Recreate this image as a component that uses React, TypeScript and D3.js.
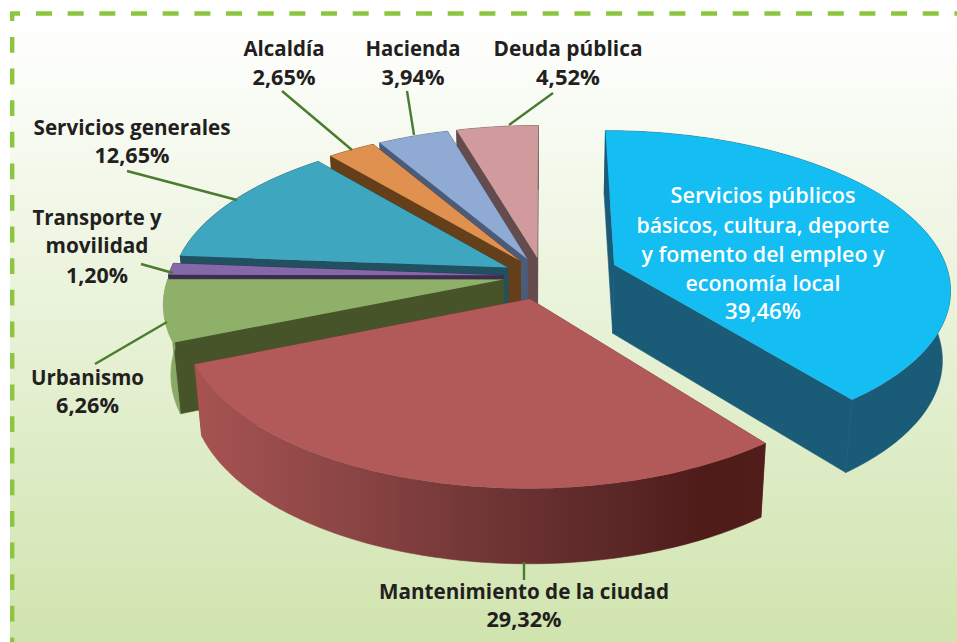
import React from "react";
import * as d3 from "d3";

const categories = [
  "Servicios públicos básicos, cultura, deporte y fomento del empleo y economía local",
  "Mantenimiento de la ciudad",
  "Urbanismo",
  "Transporte y movilidad",
  "Servicios generales",
  "Alcaldía",
  "Hacienda",
  "Deuda pública",
];
const shares = [39.46, 29.32, 6.26, 1.2, 12.65, 2.65, 3.94, 4.52];
const explode = [76, 50, 40, 40, 40, 40, 40, 40];
const topColors = ["#14bdf2", "#b25a59", "#8fb069", "#8468a8", "#3ea6bf", "#e0904f", "#8fabd3", "#d19a9c"];
const wallColors = ["#1a5b78", "#7a3c3c", "#475429", "#3d2b52", "#215060", "#653f19", "#4a5c7a", "#644b4e"];
const outerColors = ["#1a5b78", "url(#redWall)", "#8aa966", "#3d2b52", "#215060", "#653f19", "#4a5c7a", "#644b4e"];
const paintOrder = [7, 6, 5, 4, 3, 2, 0, 1];

type Label = { cx: number; lines: [string, number, number][]; fill?: string };
// text, baseline, measured width
const labels: Label[] = [
  { cx: 284, lines: [["Alcaldía", 56, 81], ["2,65%", 85, 63]] },
  { cx: 413, lines: [["Hacienda", 56, 95], ["3,94%", 85, 63]] },
  { cx: 568, lines: [["Deuda pública", 56, 149], ["4,52%", 85, 64]] },
  { cx: 132, lines: [["Servicios generales", 135, 197], ["12,65%", 163, 75]] },
  { cx: 97, lines: [["Transporte y", 225, 129], ["movilidad", 253, 103], ["1,20%", 283, 62]] },
  { cx: 87.5, lines: [["Urbanismo", 385, 113], ["6,26%", 413, 63]] },
  { cx: 524, lines: [["Mantenimiento de la ciudad", 599, 290], ["29,32%", 627, 75]] },
  {
    cx: 763,
    fill: "#ffffff",
    lines: [
      ["Servicios públicos", 203, 185],
      ["básicos, cultura, deporte", 232.5, 253],
      ["y fomento del empleo y", 261.5, 243],
      ["economía local", 290.5, 155],
      ["39,46%", 319, 76],
    ],
  },
];
const leaders: [number, number, number, number][] = [
  [282, 91, 352, 150],
  [407, 91, 414, 135],
  [553, 93, 509, 125],
  [127, 171, 237, 200],
  [141, 264, 173, 273],
  [95, 364, 167, 322],
  [524, 562, 524, 580],
];

const W = 957;
const H = 642;
const GX = 543;
const GY = 276;
const R = 335;
const SQUASH = 0.465;
const PERSP = 0.00042;
const DEPTH = 69;

const project = (X: number, V: number) => {
  const w = 1 / (1 - PERSP * V);
  return { x: GX + X * w, y: GY + SQUASH * V * w, w };
};
const lower = (p: { x: number; y: number; w: number }) => ({
  x: GX + (p.x - GX) * 0.98,
  y: p.y + DEPTH * Math.sqrt(p.w),
  w: p.w,
});

const pieGen = d3
  .pie<number>()
  .sort(null)
  .value((d) => d)
  .startAngle(0)
  .endAngle(2 * Math.PI);
const arcs = pieGen(shares);

const line = d3
  .line<{ x: number; y: number }>()
  .x((d) => d.x)
  .y((d) => d.y);

function geometry(i: number) {
  const a0 = arcs[i].startAngle;
  const a1 = arcs[i].endAngle;
  const mid = (a0 + a1) / 2;
  const ox = explode[i] * Math.sin(mid);
  const ov = -explode[i] * Math.cos(mid);
  const apex = project(ox, ov);
  const n = Math.max(6, Math.round(((a1 - a0) * 180) / Math.PI));
  const rim = d3.range(n + 1).map((k) => {
    const a = a0 + ((a1 - a0) * k) / n;
    return project(ox + R * Math.sin(a), ov - R * Math.cos(a));
  });
  return { apex, rim };
}

export default function App() {
  return (
    <svg
      width={W}
      height={H}
      viewBox={`0 0 ${W} ${H}`}
      style={{ position: "fixed", left: 0, top: 0, display: "block", background: "#ffffff" }}
    >
      <defs>
        <linearGradient id="panel" x1="0" y1="20" x2="0" y2={H} gradientUnits="userSpaceOnUse">
          <stop offset="0" stopColor="#ffffff" />
          <stop offset="1" stopColor="#d0e4ae" />
        </linearGradient>
        <linearGradient id="redWall" x1="199" y1="0" x2="764" y2="0" gradientUnits="userSpaceOnUse">
          <stop offset="0" stopColor="#a65351" />
          <stop offset="0.25" stopColor="#8c4645" />
          <stop offset="0.5" stopColor="#713636" />
          <stop offset="0.75" stopColor="#5a2626" />
          <stop offset="0.9" stopColor="#4f1b19" />
          <stop offset="1" stopColor="#501d1b" />
        </linearGradient>
      </defs>
      <rect x={10} y={0} width={W - 10} height={H} fill="url(#panel)" />
      <g fill="none" stroke="#8cc63f" strokeWidth={4.4}>
        <path d="M20,13.5 H12.2 V21" />
        <line x1={36} y1={13.5} x2={W} y2={13.5} strokeDasharray="16 15.67" />
        <line x1={12.2} y1={37} x2={12.2} y2={H} strokeDasharray="15.8 15.8" />
      </g>
      {paintOrder.map((i) => {
        const { apex, rim } = geometry(i);
        const apexLow = lower(apex);
        const first = rim[0];
        const last = rim[rim.length - 1];
        const rimLow = rim.map(lower);
        return (
          <g key={categories[i]}>
            <path
              d={line([apex, first, lower(first), apexLow])! + "Z"}
              fill={wallColors[i]}
              stroke={wallColors[i]}
              strokeWidth={0.6}
            />
            <path
              d={line([apex, last, lower(last), apexLow])! + "Z"}
              fill={wallColors[i]}
              stroke={wallColors[i]}
              strokeWidth={0.6}
            />
            <path
              d={line([...rim, ...rimLow.slice().reverse()])! + "Z"}
              fill={outerColors[i]}
              stroke={outerColors[i]}
              strokeWidth={0.6}
            />
            <path d={line([apex, ...rim])! + "Z"} fill={topColors[i]} />
          </g>
        );
      })}
      <g stroke="#4a7c2f" strokeWidth={2.4}>
        {leaders.map(([x1, y1, x2, y2]) => (
          <line key={`${x1}-${y1}`} x1={x1} y1={y1} x2={x2} y2={y2} />
        ))}
      </g>
      <g
        fontFamily="'Open Sans', sans-serif"
        fontWeight={700}
        fontSize={21}
        textAnchor="middle"
      >
        {labels.map((l) =>
          l.lines.map(([t, y, width]) => (
            <text
              key={t}
              x={l.cx}
              y={y}
              fill={l.fill ?? "#231f20"}
              fontWeight={l.fill ? 600 : 700}
              textLength={width}
              lengthAdjust="spacingAndGlyphs"
            >
              {t}
            </text>
          ))
        )}
      </g>
    </svg>
  );
}
